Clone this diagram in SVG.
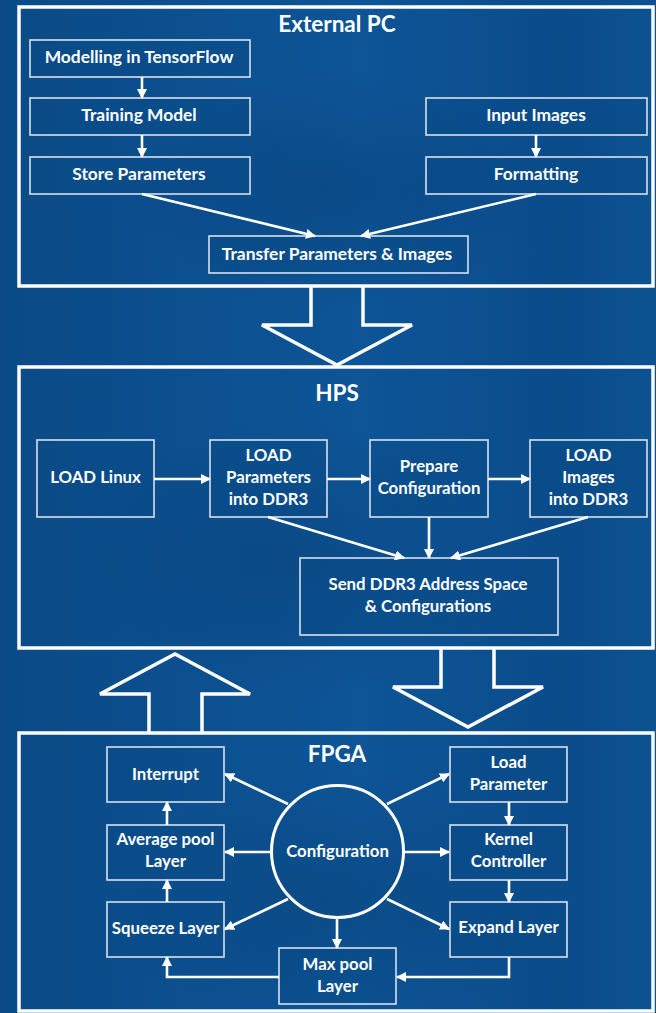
<svg xmlns="http://www.w3.org/2000/svg" width="656" height="1013" viewBox="0 0 656 1013">
  <defs>
    <linearGradient id="bg" x1="0" y1="0" x2="1" y2="0">
      <stop offset="0" stop-color="#0b4a86"/>
      <stop offset="0.3" stop-color="#0c5090"/>
      <stop offset="0.55" stop-color="#0d5597"/>
      <stop offset="0.85" stop-color="#0b4c8b"/>
      <stop offset="1" stop-color="#0c5291"/>
    </linearGradient>
    <radialGradient id="shade" cx="0.5" cy="0.5" r="0.5">
      <stop offset="0" stop-color="#08396c" stop-opacity="0.35"/>
      <stop offset="1" stop-color="#08396c" stop-opacity="0"/>
    </radialGradient>
    <marker id="ah" viewBox="0 0 10 10" refX="9" refY="5" markerWidth="10" markerHeight="10" markerUnits="userSpaceOnUse" orient="auto">
      <path d="M0,0 L10,5 L0,10 z" fill="#ffffff"/>
    </marker>
    <style>
      .panel { fill: none; stroke: #ffffff; stroke-width: 3.5; }
      .big { fill: none; stroke: #ffffff; stroke-width: 3.5; stroke-linejoin: miter; }
      .box { fill: #0a4a87; fill-opacity: 0.35; stroke: #d7e0ec; stroke-width: 1.6; }
      .ring { fill: none; stroke: #ffffff; stroke-width: 3; }
      .title { font-family: Lato, "Open Sans", sans-serif; font-weight: bold; font-size: 22.5px; fill: #ffffff; text-anchor: middle; }
      .lbl { font-family: Lato, "Open Sans", sans-serif; font-weight: bold; font-size: 16.8px; fill: #ffffff; text-anchor: middle; }
      .lbl.pc { font-size: 17.4px; }
      .conn path, .conn line { fill: none; stroke: #ffffff; stroke-width: 2.6; marker-end: url(#ah); }
    </style>
  </defs>

  <!-- background -->
  <rect x="0" y="0" width="656" height="1013" fill="url(#bg)"/>
  <ellipse cx="330" cy="190" rx="200" ry="120" fill="url(#shade)"/>
  <ellipse cx="290" cy="560" rx="220" ry="140" fill="url(#shade)"/>
  <ellipse cx="330" cy="900" rx="230" ry="130" fill="url(#shade)"/>

  <!-- section frames -->
  <g id="external-pc">
    <rect class="panel" x="19" y="7" width="634" height="279"/>
    <text class="title" x="337" y="32">External PC</text>
  </g>
  <g id="hps">
    <rect class="panel" x="19" y="367" width="634" height="281"/>
    <text class="title" x="337" y="401">HPS</text>
  </g>
  <g id="fpga">
    <rect class="panel" x="19" y="733" width="634" height="278"/>
    <text class="title" x="337" y="762">FPGA</text>
  </g>

  <!-- block arrows between sections -->
  <g id="transfer-arrows">
    <polyline class="big" points="311,287 311,325 262,325 337,365 412,325 363,325 363,287"/>
    <polyline class="big" points="149,732 149,694 100,694 175,654 250,694 202,694 202,732"/>
    <polyline class="big" points="441,649 441,687 393,687 468,727 543,687 494,687 494,649"/>
  </g>

  <!-- External PC nodes -->
  <g id="modelling">
    <rect class="box" x="30" y="40" width="220" height="37"/>
    <text class="lbl pc" x="139" y="63">Modelling in TensorFlow</text>
  </g>
  <g id="training">
    <rect class="box" x="30" y="98" width="220" height="37"/>
    <text class="lbl pc" x="139" y="121">Training Model</text>
  </g>
  <g id="store">
    <rect class="box" x="30" y="157" width="220" height="37"/>
    <text class="lbl pc" x="139" y="180">Store Parameters</text>
  </g>
  <g id="input-images">
    <rect class="box" x="426" y="98" width="221" height="37"/>
    <text class="lbl pc" x="536" y="121">Input Images</text>
  </g>
  <g id="formatting">
    <rect class="box" x="426" y="157" width="221" height="37"/>
    <text class="lbl pc" x="536" y="180">Formatting</text>
  </g>
  <g id="transfer">
    <rect class="box" x="209" y="236" width="259" height="37"/>
    <text class="lbl pc" x="337" y="260">Transfer Parameters &amp; Images</text>
  </g>

  <!-- HPS nodes -->
  <g id="load-linux">
    <rect class="box" x="37" y="440" width="117" height="77"/>
    <text class="lbl" x="95.5" y="483">LOAD Linux</text>
  </g>
  <g id="load-params">
    <rect class="box" x="210" y="440" width="117" height="77"/>
    <text class="lbl" x="268.5" y="461">LOAD</text>
    <text class="lbl" x="268.5" y="483">Parameters</text>
    <text class="lbl" x="268.5" y="505">into DDR3</text>
  </g>
  <g id="prepare-config">
    <rect class="box" x="370" y="440" width="118" height="77"/>
    <text class="lbl" x="429" y="472">Prepare</text>
    <text class="lbl" x="429" y="494">Configuration</text>
  </g>
  <g id="load-images">
    <rect class="box" x="530" y="440" width="117" height="77"/>
    <text class="lbl" x="588.5" y="461">LOAD</text>
    <text class="lbl" x="588.5" y="483">Images</text>
    <text class="lbl" x="588.5" y="505">into DDR3</text>
  </g>
  <g id="send-ddr3">
    <rect class="box" x="300" y="558" width="258" height="77"/>
    <text class="lbl" x="428" y="589.5">Send DDR3 Address Space</text>
    <text class="lbl" x="428" y="611.5">&amp; Configurations</text>
  </g>

  <!-- FPGA nodes -->
  <g id="configuration">
    <circle class="ring" cx="337.5" cy="851.5" r="66"/>
    <text class="lbl" x="337.5" y="857">Configuration</text>
  </g>
  <g id="interrupt">
    <rect class="box" x="107" y="747" width="117" height="55"/>
    <text class="lbl" x="165.5" y="779.5">Interrupt</text>
  </g>
  <g id="avg-pool">
    <rect class="box" x="107" y="825" width="117" height="55"/>
    <text class="lbl" x="165.5" y="845">Average pool</text>
    <text class="lbl" x="165.5" y="867">Layer</text>
  </g>
  <g id="squeeze">
    <rect class="box" x="107" y="902" width="117" height="55"/>
    <text class="lbl" x="165.5" y="933.5">Squeeze Layer</text>
  </g>
  <g id="max-pool">
    <rect class="box" x="279" y="948" width="117" height="56"/>
    <text class="lbl" x="337.5" y="969.5">Max pool</text>
    <text class="lbl" x="337.5" y="991.5">Layer</text>
  </g>
  <g id="load-parameter">
    <rect class="box" x="450" y="747" width="117" height="55"/>
    <text class="lbl" x="508.5" y="767.5">Load</text>
    <text class="lbl" x="508.5" y="789.5">Parameter</text>
  </g>
  <g id="kernel">
    <rect class="box" x="450" y="825" width="117" height="55"/>
    <text class="lbl" x="508.5" y="845">Kernel</text>
    <text class="lbl" x="508.5" y="867">Controller</text>
  </g>
  <g id="expand">
    <rect class="box" x="450" y="902" width="117" height="55"/>
    <text class="lbl" x="508.5" y="933">Expand Layer</text>
  </g>

  <!-- connectors -->
  <g id="connectors" class="conn">
    <!-- External PC -->
    <line x1="142" y1="77" x2="142" y2="98"/>
    <line x1="142" y1="135" x2="142" y2="157"/>
    <line x1="536" y1="135" x2="536" y2="157"/>
    <line x1="142" y1="194" x2="315" y2="236"/>
    <line x1="536" y1="194" x2="361" y2="236"/>
    <!-- HPS -->
    <line x1="154" y1="479" x2="210" y2="479"/>
    <line x1="327" y1="479" x2="370" y2="479"/>
    <line x1="488" y1="479" x2="530" y2="479"/>
    <line x1="268" y1="517" x2="404" y2="558"/>
    <line x1="429" y1="517" x2="429" y2="558"/>
    <line x1="588" y1="517" x2="451" y2="558"/>
    <!-- FPGA -->
    <line x1="288" y1="804" x2="225" y2="774"/>
    <line x1="271" y1="852" x2="225" y2="852"/>
    <line x1="288" y1="899" x2="225" y2="929"/>
    <line x1="387" y1="804" x2="449" y2="774"/>
    <line x1="403" y1="852" x2="449" y2="852"/>
    <line x1="387" y1="899" x2="449" y2="929"/>
    <line x1="337" y1="918" x2="337" y2="948"/>
    <line x1="167" y1="825" x2="167" y2="802"/>
    <line x1="167" y1="902" x2="167" y2="880"/>
    <line x1="509" y1="802" x2="509" y2="825"/>
    <line x1="509" y1="880" x2="509" y2="902"/>
    <path d="M509,957 V977 H397"/>
    <path d="M279,977 H167 V957"/>
  </g>
</svg>
